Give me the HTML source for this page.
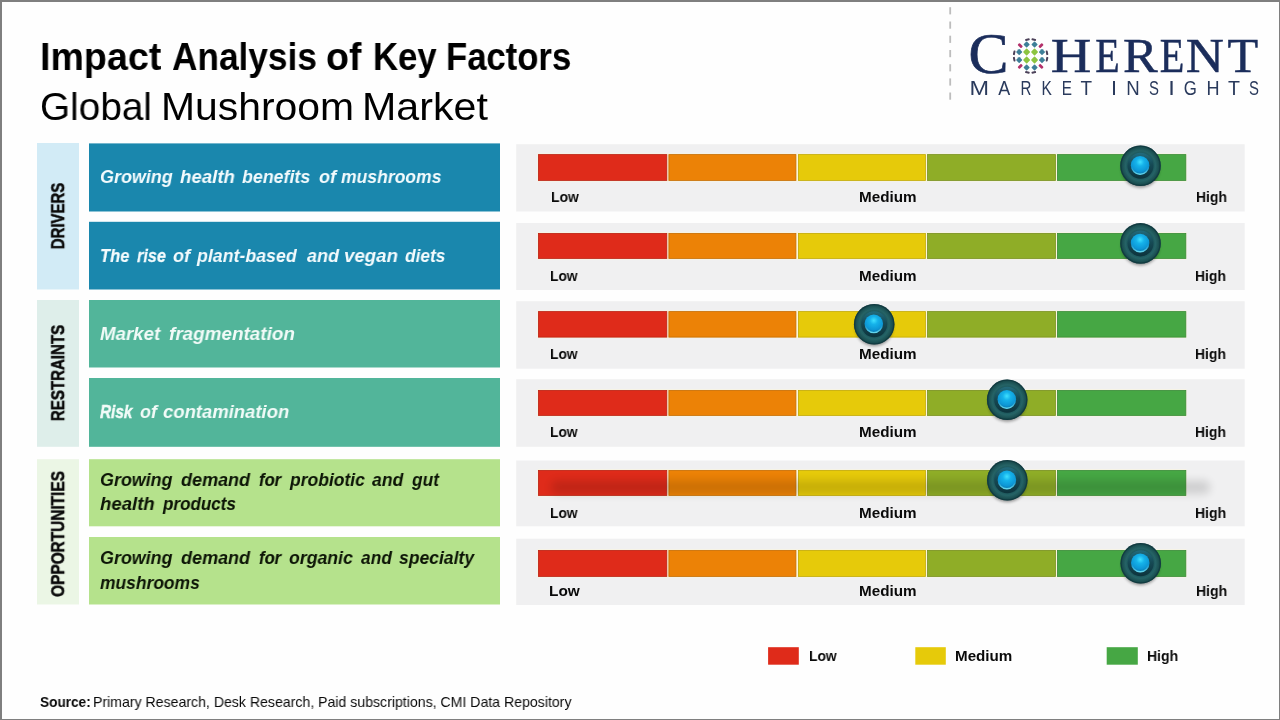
<!DOCTYPE html>
<html><head><meta charset="utf-8"><title>Impact Analysis of Key Factors</title>
<style>
html,body{margin:0;padding:0}
body{width:1280px;height:720px;position:relative;overflow:hidden;background:#fefefe;font-family:"Liberation Sans",sans-serif}
#frame{position:absolute;left:0;top:0;width:1277px;height:717px;border-style:solid;border-color:#7f7f7f;border-width:2px 1px 1px 2px;pointer-events:none}
svg#g{position:absolute;left:0;top:0}
.t{position:absolute;white-space:nowrap;line-height:1;transform-origin:0 50%;will-change:transform}
.rw{position:absolute;width:0;height:0}
.rt{position:absolute;left:0;top:0;white-space:nowrap;line-height:1;font-weight:700;color:#0a0a0a;will-change:transform;-webkit-text-stroke:0.5px #0a0a0a}
</style></head><body>
<svg id="g" width="1280" height="720" viewBox="0 0 1280 720">
<defs>
<filter id="blur5" x="-5%" y="-100%" width="110%" height="300%"><feGaussianBlur stdDeviation="4"/></filter>
<filter id="kb" x="-30%" y="-30%" width="160%" height="160%"><feGaussianBlur stdDeviation="1.6"/></filter>
<radialGradient id="ko" cx="50%" cy="50%" r="50%">
<stop offset="0" stop-color="#0f3b46"/><stop offset="0.48" stop-color="#13434b"/><stop offset="0.6" stop-color="#1b555a"/><stop offset="0.74" stop-color="#256366"/><stop offset="0.84" stop-color="#1f5759"/><stop offset="0.93" stop-color="#184b4e"/><stop offset="1" stop-color="#154245"/>
</radialGradient>
<radialGradient id="kb2" cx="50%" cy="32%" r="62%">
<stop offset="0" stop-color="#3fe0ff"/><stop offset="0.35" stop-color="#15b2ea"/><stop offset="0.8" stop-color="#0d97d6"/><stop offset="1" stop-color="#0a7fb8"/>
</radialGradient>
<linearGradient id="kw" x1="0" y1="0" x2="0" y2="1"><stop offset="0" stop-color="#236b7c"/><stop offset="0.45" stop-color="#164a55"/><stop offset="1" stop-color="#0d333c"/></linearGradient>
<linearGradient id="kc" x1="0" y1="0" x2="0" y2="1"><stop offset="0.55" stop-color="#5fd6ee" stop-opacity="0"/><stop offset="1" stop-color="#6fe0f2" stop-opacity="0.9"/></linearGradient>
<symbol id="knob" width="52" height="52" viewBox="0 0 52 52">
<ellipse cx="26" cy="29" rx="19" ry="19" fill="#000" opacity="0.38" filter="url(#kb)"/>
<circle cx="26" cy="26" r="20.3" fill="url(#ko)"/>
<circle cx="26" cy="26" r="19.6" fill="none" stroke="#0f363d" stroke-width="1.2" opacity="0.7"/>
<circle cx="26" cy="26" r="13" fill="url(#kw)"/>
<circle cx="25.6" cy="25.6" r="9.3" fill="url(#kb2)"/>
<circle cx="25.6" cy="25.8" r="8.6" fill="none" stroke="url(#kc)" stroke-width="1.4"/>
</symbol>
</defs>
<rect x="37" y="143" width="42" height="146.5" fill="#d2ebf6"/>
<rect x="37" y="300" width="42" height="146.8" fill="#deeeea"/>
<rect x="37" y="459.2" width="42" height="145.3" fill="#ebf6e5"/>
<rect x="89" y="143.4" width="411" height="68.1" fill="#1a87ad"/>
<rect x="89" y="221.8" width="411" height="67.7" fill="#1a87ad"/>
<rect x="89" y="300" width="411" height="67.5" fill="#52b59a"/>
<rect x="89" y="378" width="411" height="68.8" fill="#52b59a"/>
<rect x="89" y="459.2" width="411" height="67.1" fill="#b5e28c"/>
<rect x="89" y="537" width="411" height="67.5" fill="#b5e28c"/>
<rect x="516.2" y="144.2" width="728.5" height="67.3" fill="#f0f0f1"/>
<rect x="516.2" y="223" width="728.5" height="67.0" fill="#f0f0f1"/>
<rect x="516.2" y="301.2" width="728.5" height="67.5" fill="#f0f0f1"/>
<rect x="516.2" y="379.2" width="728.5" height="67.6" fill="#f0f0f1"/>
<rect x="516.2" y="460.5" width="728.5" height="65.8" fill="#f0f0f1"/>
<rect x="516.2" y="538.7" width="728.5" height="66.3" fill="#f0f0f1"/>
<rect x="537.6" y="153.6" width="649" height="27.8" fill="#fbf5dc"/>
<rect x="538.4" y="154.6" width="128.4" height="25.8" fill="#df2b1a" stroke="#df2b1a" stroke-width="0.8"/><rect x="538.4" y="154.6" width="128.4" height="25.8" fill="none" stroke="#000" stroke-opacity="0.16" stroke-width="0.8"/>
<rect x="668.9" y="154.6" width="127.0" height="25.8" fill="#ec8206" stroke="#ec8206" stroke-width="0.8"/><rect x="668.9" y="154.6" width="127.0" height="25.8" fill="none" stroke="#000" stroke-opacity="0.16" stroke-width="0.8"/>
<rect x="798.4" y="154.6" width="127.0" height="25.8" fill="#e6ca0a" stroke="#e6ca0a" stroke-width="0.8"/><rect x="798.4" y="154.6" width="127.0" height="25.8" fill="none" stroke="#000" stroke-opacity="0.16" stroke-width="0.8"/>
<rect x="927.6" y="154.6" width="127.8" height="25.8" fill="#8fad27" stroke="#8fad27" stroke-width="0.8"/><rect x="927.6" y="154.6" width="127.8" height="25.8" fill="none" stroke="#000" stroke-opacity="0.16" stroke-width="0.8"/>
<rect x="1057.4" y="154.6" width="128.4" height="25.8" fill="#46a744" stroke="#46a744" stroke-width="0.8"/><rect x="1057.4" y="154.6" width="128.4" height="25.8" fill="none" stroke="#000" stroke-opacity="0.16" stroke-width="0.8"/>
<rect x="537.6" y="232.4" width="649" height="27.0" fill="#fbf5dc"/>
<rect x="538.4" y="233.4" width="128.4" height="25.0" fill="#df2b1a" stroke="#df2b1a" stroke-width="0.8"/><rect x="538.4" y="233.4" width="128.4" height="25.0" fill="none" stroke="#000" stroke-opacity="0.16" stroke-width="0.8"/>
<rect x="668.9" y="233.4" width="127.0" height="25.0" fill="#ec8206" stroke="#ec8206" stroke-width="0.8"/><rect x="668.9" y="233.4" width="127.0" height="25.0" fill="none" stroke="#000" stroke-opacity="0.16" stroke-width="0.8"/>
<rect x="798.4" y="233.4" width="127.0" height="25.0" fill="#e6ca0a" stroke="#e6ca0a" stroke-width="0.8"/><rect x="798.4" y="233.4" width="127.0" height="25.0" fill="none" stroke="#000" stroke-opacity="0.16" stroke-width="0.8"/>
<rect x="927.6" y="233.4" width="127.8" height="25.0" fill="#8fad27" stroke="#8fad27" stroke-width="0.8"/><rect x="927.6" y="233.4" width="127.8" height="25.0" fill="none" stroke="#000" stroke-opacity="0.16" stroke-width="0.8"/>
<rect x="1057.4" y="233.4" width="128.4" height="25.0" fill="#46a744" stroke="#46a744" stroke-width="0.8"/><rect x="1057.4" y="233.4" width="128.4" height="25.0" fill="none" stroke="#000" stroke-opacity="0.16" stroke-width="0.8"/>
<rect x="537.6" y="310.6" width="649" height="27.5" fill="#fbf5dc"/>
<rect x="538.4" y="311.59999999999997" width="128.4" height="25.5" fill="#df2b1a" stroke="#df2b1a" stroke-width="0.8"/><rect x="538.4" y="311.59999999999997" width="128.4" height="25.5" fill="none" stroke="#000" stroke-opacity="0.16" stroke-width="0.8"/>
<rect x="668.9" y="311.59999999999997" width="127.0" height="25.5" fill="#ec8206" stroke="#ec8206" stroke-width="0.8"/><rect x="668.9" y="311.59999999999997" width="127.0" height="25.5" fill="none" stroke="#000" stroke-opacity="0.16" stroke-width="0.8"/>
<rect x="798.4" y="311.59999999999997" width="127.0" height="25.5" fill="#e6ca0a" stroke="#e6ca0a" stroke-width="0.8"/><rect x="798.4" y="311.59999999999997" width="127.0" height="25.5" fill="none" stroke="#000" stroke-opacity="0.16" stroke-width="0.8"/>
<rect x="927.6" y="311.59999999999997" width="127.8" height="25.5" fill="#8fad27" stroke="#8fad27" stroke-width="0.8"/><rect x="927.6" y="311.59999999999997" width="127.8" height="25.5" fill="none" stroke="#000" stroke-opacity="0.16" stroke-width="0.8"/>
<rect x="1057.4" y="311.59999999999997" width="128.4" height="25.5" fill="#46a744" stroke="#46a744" stroke-width="0.8"/><rect x="1057.4" y="311.59999999999997" width="128.4" height="25.5" fill="none" stroke="#000" stroke-opacity="0.16" stroke-width="0.8"/>
<rect x="537.6" y="389.4" width="649" height="27.0" fill="#fbf5dc"/>
<rect x="538.4" y="390.4" width="128.4" height="25.0" fill="#df2b1a" stroke="#df2b1a" stroke-width="0.8"/><rect x="538.4" y="390.4" width="128.4" height="25.0" fill="none" stroke="#000" stroke-opacity="0.16" stroke-width="0.8"/>
<rect x="668.9" y="390.4" width="127.0" height="25.0" fill="#ec8206" stroke="#ec8206" stroke-width="0.8"/><rect x="668.9" y="390.4" width="127.0" height="25.0" fill="none" stroke="#000" stroke-opacity="0.16" stroke-width="0.8"/>
<rect x="798.4" y="390.4" width="127.0" height="25.0" fill="#e6ca0a" stroke="#e6ca0a" stroke-width="0.8"/><rect x="798.4" y="390.4" width="127.0" height="25.0" fill="none" stroke="#000" stroke-opacity="0.16" stroke-width="0.8"/>
<rect x="927.6" y="390.4" width="127.8" height="25.0" fill="#8fad27" stroke="#8fad27" stroke-width="0.8"/><rect x="927.6" y="390.4" width="127.8" height="25.0" fill="none" stroke="#000" stroke-opacity="0.16" stroke-width="0.8"/>
<rect x="1057.4" y="390.4" width="128.4" height="25.0" fill="#46a744" stroke="#46a744" stroke-width="0.8"/><rect x="1057.4" y="390.4" width="128.4" height="25.0" fill="none" stroke="#000" stroke-opacity="0.16" stroke-width="0.8"/>
<rect x="537.6" y="469.4" width="649" height="27.0" fill="#fbf5dc"/>
<rect x="538.4" y="470.4" width="128.4" height="25.0" fill="#df2b1a" stroke="#df2b1a" stroke-width="0.8"/><rect x="538.4" y="470.4" width="128.4" height="25.0" fill="none" stroke="#000" stroke-opacity="0.16" stroke-width="0.8"/>
<rect x="668.9" y="470.4" width="127.0" height="25.0" fill="#ec8206" stroke="#ec8206" stroke-width="0.8"/><rect x="668.9" y="470.4" width="127.0" height="25.0" fill="none" stroke="#000" stroke-opacity="0.16" stroke-width="0.8"/>
<rect x="798.4" y="470.4" width="127.0" height="25.0" fill="#e6ca0a" stroke="#e6ca0a" stroke-width="0.8"/><rect x="798.4" y="470.4" width="127.0" height="25.0" fill="none" stroke="#000" stroke-opacity="0.16" stroke-width="0.8"/>
<rect x="927.6" y="470.4" width="127.8" height="25.0" fill="#8fad27" stroke="#8fad27" stroke-width="0.8"/><rect x="927.6" y="470.4" width="127.8" height="25.0" fill="none" stroke="#000" stroke-opacity="0.16" stroke-width="0.8"/>
<rect x="1057.4" y="470.4" width="128.4" height="25.0" fill="#46a744" stroke="#46a744" stroke-width="0.8"/><rect x="1057.4" y="470.4" width="128.4" height="25.0" fill="none" stroke="#000" stroke-opacity="0.16" stroke-width="0.8"/>
<rect x="551" y="480.5" width="659" height="13.5" rx="6" fill="#000" opacity="0.135" filter="url(#blur5)"/>
<rect x="537.6" y="549.4" width="649" height="28.0" fill="#fbf5dc"/>
<rect x="538.4" y="550.4" width="128.4" height="26.0" fill="#df2b1a" stroke="#df2b1a" stroke-width="0.8"/><rect x="538.4" y="550.4" width="128.4" height="26.0" fill="none" stroke="#000" stroke-opacity="0.16" stroke-width="0.8"/>
<rect x="668.9" y="550.4" width="127.0" height="26.0" fill="#ec8206" stroke="#ec8206" stroke-width="0.8"/><rect x="668.9" y="550.4" width="127.0" height="26.0" fill="none" stroke="#000" stroke-opacity="0.16" stroke-width="0.8"/>
<rect x="798.4" y="550.4" width="127.0" height="26.0" fill="#e6ca0a" stroke="#e6ca0a" stroke-width="0.8"/><rect x="798.4" y="550.4" width="127.0" height="26.0" fill="none" stroke="#000" stroke-opacity="0.16" stroke-width="0.8"/>
<rect x="927.6" y="550.4" width="127.8" height="26.0" fill="#8fad27" stroke="#8fad27" stroke-width="0.8"/><rect x="927.6" y="550.4" width="127.8" height="26.0" fill="none" stroke="#000" stroke-opacity="0.16" stroke-width="0.8"/>
<rect x="1057.4" y="550.4" width="128.4" height="26.0" fill="#46a744" stroke="#46a744" stroke-width="0.8"/><rect x="1057.4" y="550.4" width="128.4" height="26.0" fill="none" stroke="#000" stroke-opacity="0.16" stroke-width="0.8"/>
<use href="#knob" x="1114.5" y="139.8"/>
<use href="#knob" x="1114.5" y="217.4"/>
<use href="#knob" x="848.2" y="298.2"/>
<use href="#knob" x="981.2" y="373.8"/>
<use href="#knob" x="981.3" y="454.3"/>
<use href="#knob" x="1114.7" y="537.3"/>
<rect x="768.1" y="647.2" width="30.7" height="17.5" fill="#df2b1a"/>
<rect x="915.3" y="647.2" width="30.5" height="17.5" fill="#e6ca0a"/>
<rect x="1106.7" y="647.2" width="31.1" height="17.5" fill="#46a744"/>
<g id="logo" opacity="0.999">
<rect x="949.3" y="7.2" width="1.8" height="7.2" fill="#bdbdbd"/><rect x="949.3" y="21.5" width="1.8" height="7.2" fill="#bdbdbd"/><rect x="949.3" y="35.7" width="1.8" height="7.2" fill="#bdbdbd"/><rect x="949.3" y="50" width="1.8" height="7.2" fill="#bdbdbd"/><rect x="949.3" y="64.2" width="1.8" height="7.2" fill="#bdbdbd"/><rect x="949.3" y="78.4" width="1.8" height="7.2" fill="#bdbdbd"/><rect x="949.3" y="92.5" width="1.8" height="7.2" fill="#bdbdbd"/>
<rect x="-2.5" y="-1.4" width="5.0" height="2.8" rx="0.9" fill="#b3306a" transform="translate(1020.23,45.63) rotate(45)"/>
<rect x="-2.3" y="-2.3" width="4.6" height="4.6" rx="0.7" fill="#3e7f98" transform="translate(1019.20,52.05) rotate(45)"/>
<rect x="-2.3" y="-2.3" width="4.6" height="4.6" rx="0.7" fill="#3e7f98" transform="translate(1019.20,59.95) rotate(45)"/>
<rect x="-2.5" y="-1.4" width="5.0" height="2.8" rx="0.9" fill="#b3306a" transform="translate(1020.23,66.37) rotate(-45)"/>
<rect x="-2.3" y="-2.3" width="4.6" height="4.6" rx="0.7" fill="#3e7f98" transform="translate(1026.65,44.60) rotate(45)"/>
<rect x="-2.6" y="-2.6" width="5.2" height="5.2" rx="0.7" fill="#8cc440" transform="translate(1026.65,52.05) rotate(45)"/>
<rect x="-2.6" y="-2.6" width="5.2" height="5.2" rx="0.7" fill="#8cc440" transform="translate(1026.65,59.95) rotate(45)"/>
<rect x="-2.3" y="-2.3" width="4.6" height="4.6" rx="0.7" fill="#3e7f98" transform="translate(1026.65,67.40) rotate(45)"/>
<rect x="-2.3" y="-2.3" width="4.6" height="4.6" rx="0.7" fill="#3e7f98" transform="translate(1034.55,44.60) rotate(45)"/>
<rect x="-2.6" y="-2.6" width="5.2" height="5.2" rx="0.7" fill="#8cc440" transform="translate(1034.55,52.05) rotate(45)"/>
<rect x="-2.6" y="-2.6" width="5.2" height="5.2" rx="0.7" fill="#8cc440" transform="translate(1034.55,59.95) rotate(45)"/>
<rect x="-2.3" y="-2.3" width="4.6" height="4.6" rx="0.7" fill="#3e7f98" transform="translate(1034.55,67.40) rotate(45)"/>
<rect x="-2.5" y="-1.4" width="5.0" height="2.8" rx="0.9" fill="#b3306a" transform="translate(1040.97,45.63) rotate(-45)"/>
<rect x="-2.3" y="-2.3" width="4.6" height="4.6" rx="0.7" fill="#3e7f98" transform="translate(1042.00,52.05) rotate(45)"/>
<rect x="-2.3" y="-2.3" width="4.6" height="4.6" rx="0.7" fill="#3e7f98" transform="translate(1042.00,59.95) rotate(45)"/>
<rect x="-2.5" y="-1.4" width="5.0" height="2.8" rx="0.9" fill="#b3306a" transform="translate(1040.97,66.37) rotate(45)"/>
<rect x="-1.0" y="-2.3" width="2.0" height="4.6" rx="0.8" fill="#4c4159" transform="translate(1027.41,39.61) rotate(-101)"/>
<rect x="-1.0" y="-2.3" width="2.0" height="4.6" rx="0.8" fill="#4c4159" transform="translate(1033.79,39.61) rotate(-79)"/>
<rect x="-1.0" y="-2.3" width="2.0" height="4.6" rx="0.8" fill="#4c4159" transform="translate(1046.99,52.81) rotate(-11)"/>
<rect x="-1.0" y="-2.3" width="2.0" height="4.6" rx="0.8" fill="#4c4159" transform="translate(1046.99,59.19) rotate(11)"/>
<rect x="-1.0" y="-2.3" width="2.0" height="4.6" rx="0.8" fill="#4c4159" transform="translate(1033.79,72.39) rotate(79)"/>
<rect x="-1.0" y="-2.3" width="2.0" height="4.6" rx="0.8" fill="#4c4159" transform="translate(1027.41,72.39) rotate(101)"/>
<rect x="-1.0" y="-2.3" width="2.0" height="4.6" rx="0.8" fill="#4c4159" transform="translate(1014.21,59.19) rotate(169)"/>
<rect x="-1.0" y="-2.3" width="2.0" height="4.6" rx="0.8" fill="#4c4159" transform="translate(1014.21,52.81) rotate(191)"/>
<text font-family="Liberation Serif, serif" font-size="57.0" fill="#1b2d5b" stroke="#1b2d5b" stroke-width="0.7" transform="translate(968.54,72.7) scale(1.051,1)">C</text>
<text font-family="Liberation Serif, serif" font-size="47.6" fill="#1b2d5b" stroke="#1b2d5b" stroke-width="0.5" transform="translate(1050.68,72.3) scale(1.180,1)">H</text>
<text font-family="Liberation Serif, serif" font-size="47.6" fill="#1b2d5b" stroke="#1b2d5b" stroke-width="0.5" transform="translate(1095.25,72.3) scale(0.841,1)">E</text>
<text font-family="Liberation Serif, serif" font-size="47.6" fill="#1b2d5b" stroke="#1b2d5b" stroke-width="0.5" transform="translate(1123.00,72.3) scale(1.092,1)">R</text>
<text font-family="Liberation Serif, serif" font-size="47.6" fill="#1b2d5b" stroke="#1b2d5b" stroke-width="0.5" transform="translate(1159.84,72.3) scale(0.845,1)">E</text>
<text font-family="Liberation Serif, serif" font-size="47.6" fill="#1b2d5b" stroke="#1b2d5b" stroke-width="0.5" transform="translate(1185.78,72.3) scale(1.109,1)">N</text>
<text font-family="Liberation Serif, serif" font-size="47.6" fill="#1b2d5b" stroke="#1b2d5b" stroke-width="0.5" transform="translate(1227.59,72.3) scale(1.054,1)">T</text>
<text font-family="Liberation Sans, sans-serif" font-size="19.3" fill="#2a3a5c"  transform="translate(969.38,94.6) scale(1.216,1)">M</text>
<text font-family="Liberation Sans, sans-serif" font-size="19.3" fill="#2a3a5c"  transform="translate(998.36,94.6) scale(0.930,1)">A</text>
<text font-family="Liberation Sans, sans-serif" font-size="19.3" fill="#2a3a5c"  transform="translate(1020.46,94.6) scale(0.785,1)">R</text>
<text font-family="Liberation Sans, sans-serif" font-size="19.3" fill="#2a3a5c"  transform="translate(1041.53,94.6) scale(0.804,1)">K</text>
<text font-family="Liberation Sans, sans-serif" font-size="19.3" fill="#2a3a5c"  transform="translate(1061.74,94.6) scale(0.793,1)">E</text>
<text font-family="Liberation Sans, sans-serif" font-size="19.3" fill="#2a3a5c"  transform="translate(1080.57,94.6) scale(0.981,1)">T</text>
<text font-family="Liberation Sans, sans-serif" font-size="19.3" fill="#2a3a5c"  transform="translate(1111.02,94.6) scale(1.112,1)">I</text>
<text font-family="Liberation Sans, sans-serif" font-size="19.3" fill="#2a3a5c"  transform="translate(1126.37,94.6) scale(0.965,1)">N</text>
<text font-family="Liberation Sans, sans-serif" font-size="19.3" fill="#2a3a5c"  transform="translate(1149.12,94.6) scale(0.774,1)">S</text>
<text font-family="Liberation Sans, sans-serif" font-size="19.3" fill="#2a3a5c"  transform="translate(1168.22,94.6) scale(1.223,1)">I</text>
<text font-family="Liberation Sans, sans-serif" font-size="19.3" fill="#2a3a5c"  transform="translate(1183.65,94.6) scale(0.873,1)">G</text>
<text font-family="Liberation Sans, sans-serif" font-size="19.3" fill="#2a3a5c"  transform="translate(1206.42,94.6) scale(0.937,1)">H</text>
<text font-family="Liberation Sans, sans-serif" font-size="19.3" fill="#2a3a5c"  transform="translate(1228.06,94.6) scale(1.017,1)">T</text>
<text font-family="Liberation Sans, sans-serif" font-size="19.3" fill="#2a3a5c"  transform="translate(1249.02,94.6) scale(0.774,1)">S</text>
</g>
</svg>
<div id="ta0" class="t" style="left:39.80px;top:36.66px;font-size:39.5px;color:#000;font-weight:700;transform:scaleX(0.9524)">Impact</div>
<div id="ta1" class="t" style="left:171.60px;top:36.66px;font-size:39.5px;color:#000;font-weight:700;-webkit-text-stroke:0.04px #000;transform:scaleX(0.8922)">Analysis</div>
<div id="ta2" class="t" style="left:325.75px;top:36.66px;font-size:39.5px;color:#000;font-weight:700;transform:scaleX(0.9481)">of</div>
<div id="ta3" class="t" style="left:373.24px;top:36.66px;font-size:39.5px;color:#000;font-weight:700;-webkit-text-stroke:0.11px #000;transform:scaleX(0.8781)">Key</div>
<div id="ta4" class="t" style="left:446.25px;top:36.66px;font-size:39.5px;color:#000;font-weight:700;-webkit-text-stroke:0.11px #000;transform:scaleX(0.8775)">Factors</div>
<div id="tb0" class="t" style="left:40.01px;top:87.33px;font-size:39.3px;color:#000;transform:scaleX(0.9859)">Global</div>
<div id="tb1" class="t" style="left:161.28px;top:87.33px;font-size:39.3px;color:#000;transform:scaleX(1.0399)">Mushroom</div>
<div id="tb2" class="t" style="left:362.16px;top:87.33px;font-size:39.3px;color:#000;transform:scaleX(1.0480)">Market</div>
<div id="r1_0" class="t" style="left:99.70px;top:166.85px;font-size:19.2px;color:#f4fbfd;font-weight:700;font-style:italic;transform:scaleX(0.9361)">Growing</div>
<div id="r1_1" class="t" style="left:180.30px;top:166.85px;font-size:19.2px;color:#f4fbfd;font-weight:700;font-style:italic;transform:scaleX(0.9716)">health</div>
<div id="r1_2" class="t" style="left:242.30px;top:166.85px;font-size:19.2px;color:#f4fbfd;font-weight:700;font-style:italic;transform:scaleX(0.9270)">benefits</div>
<div id="r1_3" class="t" style="left:319.20px;top:166.85px;font-size:19.2px;color:#f4fbfd;font-weight:700;font-style:italic;transform:scaleX(0.9432)">of</div>
<div id="r1_4" class="t" style="left:341.30px;top:166.85px;font-size:19.2px;color:#f4fbfd;font-weight:700;font-style:italic;transform:scaleX(0.9143)">mushrooms</div>
<div id="r2_0" class="t" style="left:99.74px;top:245.75px;font-size:19.2px;color:#f4fbfd;font-weight:700;font-style:italic;-webkit-text-stroke:0.19px #f4fbfd;transform:scaleX(0.8612)">The</div>
<div id="r2_1" class="t" style="left:136.60px;top:245.75px;font-size:19.2px;color:#f4fbfd;font-weight:700;font-style:italic;-webkit-text-stroke:0.26px #f4fbfd;transform:scaleX(0.8471)">rise</div>
<div id="r2_2" class="t" style="left:173.00px;top:245.75px;font-size:19.2px;color:#f4fbfd;font-weight:700;font-style:italic;transform:scaleX(0.9432)">of</div>
<div id="r2_3" class="t" style="left:196.93px;top:245.75px;font-size:19.2px;color:#f4fbfd;font-weight:700;font-style:italic;transform:scaleX(0.9258)">plant-based</div>
<div id="r2_4" class="t" style="left:306.60px;top:245.75px;font-size:19.2px;color:#f4fbfd;font-weight:700;font-style:italic;transform:scaleX(0.9352)">and</div>
<div id="r2_5" class="t" style="left:344.23px;top:245.75px;font-size:19.2px;color:#f4fbfd;font-weight:700;font-style:italic;transform:scaleX(0.9733)">vegan</div>
<div id="r2_6" class="t" style="left:404.50px;top:245.75px;font-size:19.2px;color:#f4fbfd;font-weight:700;font-style:italic;transform:scaleX(0.9022)">diets</div>
<div id="r3_0" class="t" style="left:99.50px;top:323.55px;font-size:19.2px;color:#f2fbf8;font-weight:700;font-style:italic;transform:scaleX(0.9738)">Market</div>
<div id="r3_1" class="t" style="left:169.30px;top:323.55px;font-size:19.2px;color:#f2fbf8;font-weight:700;font-style:italic;transform:scaleX(0.9843)">fragmentation</div>
<div id="r4_0" class="t" style="left:99.50px;top:402.05px;font-size:19.2px;color:#f2fbf8;font-weight:700;font-style:italic;-webkit-text-stroke:0.50px #f2fbf8;transform:scaleX(0.8003)">Risk</div>
<div id="r4_1" class="t" style="left:140.30px;top:402.05px;font-size:19.2px;color:#f2fbf8;font-weight:700;font-style:italic;transform:scaleX(0.9330)">of</div>
<div id="r4_2" class="t" style="left:163.00px;top:402.05px;font-size:19.2px;color:#f2fbf8;font-weight:700;font-style:italic;transform:scaleX(0.9624)">contamination</div>
<div id="r5a_0" class="t" style="left:99.70px;top:470.05px;font-size:19.2px;color:#0c1406;font-weight:700;font-style:italic;transform:scaleX(0.9323)">Growing</div>
<div id="r5a_1" class="t" style="left:180.60px;top:470.05px;font-size:19.2px;color:#0c1406;font-weight:700;font-style:italic;transform:scaleX(0.9393)">demand</div>
<div id="r5a_2" class="t" style="left:258.90px;top:470.05px;font-size:19.2px;color:#0c1406;font-weight:700;font-style:italic;-webkit-text-stroke:0.17px #0c1406;transform:scaleX(0.8668)">for</div>
<div id="r5a_3" class="t" style="left:289.91px;top:470.05px;font-size:19.2px;color:#0c1406;font-weight:700;font-style:italic;transform:scaleX(0.9113)">probiotic</div>
<div id="r5a_4" class="t" style="left:372.30px;top:470.05px;font-size:19.2px;color:#0c1406;font-weight:700;font-style:italic;transform:scaleX(0.9155)">and</div>
<div id="r5a_5" class="t" style="left:411.90px;top:470.05px;font-size:19.2px;color:#0c1406;font-weight:700;font-style:italic;transform:scaleX(0.9032)">gut</div>
<div id="r5b_0" class="t" style="left:99.70px;top:494.25px;font-size:19.2px;color:#0c1406;font-weight:700;font-style:italic;transform:scaleX(0.9680)">health</div>
<div id="r5b_1" class="t" style="left:162.89px;top:494.25px;font-size:19.2px;color:#0c1406;font-weight:700;font-style:italic;-webkit-text-stroke:0.06px #0c1406;transform:scaleX(0.8872)">products</div>
<div id="r6a_0" class="t" style="left:99.70px;top:548.05px;font-size:19.2px;color:#0c1406;font-weight:700;font-style:italic;transform:scaleX(0.9323)">Growing</div>
<div id="r6a_1" class="t" style="left:180.60px;top:548.05px;font-size:19.2px;color:#0c1406;font-weight:700;font-style:italic;transform:scaleX(0.9393)">demand</div>
<div id="r6a_2" class="t" style="left:258.90px;top:548.05px;font-size:19.2px;color:#0c1406;font-weight:700;font-style:italic;-webkit-text-stroke:0.17px #0c1406;transform:scaleX(0.8668)">for</div>
<div id="r6a_3" class="t" style="left:288.60px;top:548.05px;font-size:19.2px;color:#0c1406;font-weight:700;font-style:italic;transform:scaleX(0.9206)">organic</div>
<div id="r6a_4" class="t" style="left:360.50px;top:548.05px;font-size:19.2px;color:#0c1406;font-weight:700;font-style:italic;transform:scaleX(0.9042)">and</div>
<div id="r6a_5" class="t" style="left:399.00px;top:548.05px;font-size:19.2px;color:#0c1406;font-weight:700;font-style:italic;transform:scaleX(0.9142)">specialty</div>
<div id="r6b_0" class="t" style="left:99.70px;top:572.75px;font-size:19.2px;color:#0c1406;font-weight:700;font-style:italic;transform:scaleX(0.9088)">mushrooms</div>
<div id="lo0" class="t" style="left:550.77px;top:189.40px;font-size:15px;color:#0a0a0a;font-weight:700;transform:scaleX(0.9275)">Low</div>
<div id="me0" class="t" style="left:858.58px;top:189.40px;font-size:15px;color:#0a0a0a;font-weight:700;transform:scaleX(1.0157)">Medium</div>
<div id="hi0" class="t" style="left:1195.77px;top:189.40px;font-size:15px;color:#0a0a0a;font-weight:700;transform:scaleX(0.9265)">High</div>
<div id="lo1" class="t" style="left:549.78px;top:268.10px;font-size:15px;color:#0a0a0a;font-weight:700;transform:scaleX(0.9173)">Low</div>
<div id="me1" class="t" style="left:858.58px;top:268.10px;font-size:15px;color:#0a0a0a;font-weight:700;transform:scaleX(1.0157)">Medium</div>
<div id="hi1" class="t" style="left:1194.77px;top:268.10px;font-size:15px;color:#0a0a0a;font-weight:700;transform:scaleX(0.9265)">High</div>
<div id="lo2" class="t" style="left:549.78px;top:346.00px;font-size:15px;color:#0a0a0a;font-weight:700;transform:scaleX(0.9173)">Low</div>
<div id="me2" class="t" style="left:858.58px;top:346.00px;font-size:15px;color:#0a0a0a;font-weight:700;transform:scaleX(1.0157)">Medium</div>
<div id="hi2" class="t" style="left:1194.77px;top:346.00px;font-size:15px;color:#0a0a0a;font-weight:700;transform:scaleX(0.9265)">High</div>
<div id="lo3" class="t" style="left:549.78px;top:423.70px;font-size:15px;color:#0a0a0a;font-weight:700;transform:scaleX(0.9173)">Low</div>
<div id="me3" class="t" style="left:858.58px;top:423.70px;font-size:15px;color:#0a0a0a;font-weight:700;transform:scaleX(1.0157)">Medium</div>
<div id="hi3" class="t" style="left:1194.77px;top:423.70px;font-size:15px;color:#0a0a0a;font-weight:700;transform:scaleX(0.9265)">High</div>
<div id="lo4" class="t" style="left:549.78px;top:504.90px;font-size:15px;color:#0a0a0a;font-weight:700;transform:scaleX(0.9173)">Low</div>
<div id="me4" class="t" style="left:858.58px;top:504.90px;font-size:15px;color:#0a0a0a;font-weight:700;transform:scaleX(1.0157)">Medium</div>
<div id="hi4" class="t" style="left:1194.57px;top:504.90px;font-size:15px;color:#0a0a0a;font-weight:700;transform:scaleX(0.9328)">High</div>
<div id="lo5" class="t" style="left:549.01px;top:583.46px;font-size:15.4px;color:#0a0a0a;font-weight:700;transform:scaleX(0.9899)">Low</div>
<div id="me5" class="t" style="left:858.58px;top:583.40px;font-size:15px;color:#0a0a0a;font-weight:700;transform:scaleX(1.0157)">Medium</div>
<div id="hi5" class="t" style="left:1195.77px;top:583.40px;font-size:15px;color:#0a0a0a;font-weight:700;transform:scaleX(0.9328)">High</div>
<div id="lgl" class="t" style="left:808.88px;top:648.30px;font-size:15px;color:#0a0a0a;font-weight:700;transform:scaleX(0.9207)">Low</div>
<div id="lgm" class="t" style="left:954.59px;top:648.30px;font-size:15px;color:#0a0a0a;font-weight:700;transform:scaleX(1.0121)">Medium</div>
<div id="lgh" class="t" style="left:1147.07px;top:648.30px;font-size:15px;color:#0a0a0a;font-weight:700;transform:scaleX(0.9328)">High</div>
<div id="src1" class="t" style="left:39.60px;top:694.64px;font-size:14.6px;color:#0a0a0a;font-weight:700;transform:scaleX(0.9331)">Source:</div>
<div id="src2" class="t" style="left:92.83px;top:694.64px;font-size:14.6px;color:#0a0a0a;transform:scaleX(0.9671)">Primary Research, Desk Research, Paid subscriptions, CMI Data Repository</div>
<div class="rw" style="left:58.86px;top:215.56px"><div id="c1" class="rt" style="font-size:17.6px;transform:translate(-50%,-50%) rotate(-90deg) scaleX(0.8493)">DRIVERS</div></div>
<div class="rw" style="left:58.86px;top:373.26px"><div id="c2" class="rt" style="font-size:17.6px;transform:translate(-50%,-50%) rotate(-90deg) scaleX(0.8561)">RESTRAINTS</div></div>
<div class="rw" style="left:58.86px;top:533.93px"><div id="c3" class="rt" style="font-size:17.6px;transform:translate(-50%,-50%) rotate(-90deg) scaleX(0.8759)">OPPORTUNITIES</div></div>
<div id="frame"></div>
</body></html>
